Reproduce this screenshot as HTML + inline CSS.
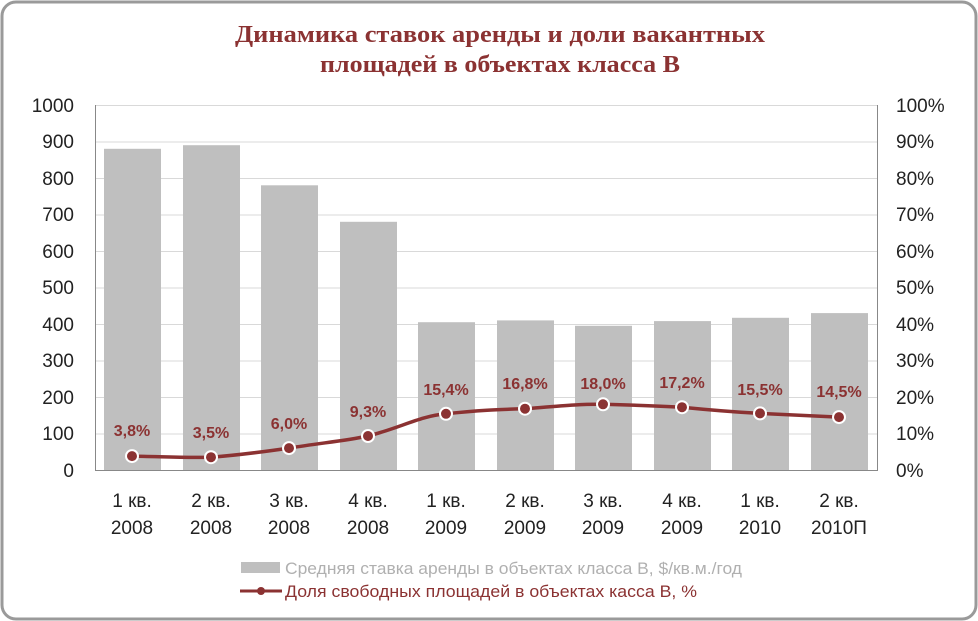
<!DOCTYPE html>
<html><head><meta charset="utf-8"><style>
html,body{margin:0;padding:0;background:#fff;}
svg{display:block;}
</style></head><body>
<svg width="978" height="621" viewBox="0 0 978 621" xmlns="http://www.w3.org/2000/svg">
<rect x="2" y="2" width="974" height="617" rx="14" fill="#fff" stroke="#9a9a9a" stroke-width="3"/>
<g font-family="Liberation Serif, serif" font-size="24" font-weight="bold" fill="#8b3232" text-anchor="middle">
<text x="500" y="42" textLength="530" lengthAdjust="spacingAndGlyphs">Динамика ставок аренды и доли вакантных</text>
<text x="500" y="72" textLength="360" lengthAdjust="spacingAndGlyphs">площадей в объектах класса В</text>
</g>
<g stroke="#d9d9d9" stroke-width="1">
<line x1="95" y1="105.5" x2="878" y2="105.5"/><line x1="95" y1="142" x2="878" y2="142"/>
<line x1="95" y1="178.5" x2="878" y2="178.5"/><line x1="95" y1="215" x2="878" y2="215"/>
<line x1="95" y1="251.5" x2="878" y2="251.5"/><line x1="95" y1="288" x2="878" y2="288"/>
<line x1="95" y1="324.5" x2="878" y2="324.5"/><line x1="95" y1="361" x2="878" y2="361"/>
<line x1="95" y1="397.5" x2="878" y2="397.5"/><line x1="95" y1="434" x2="878" y2="434"/>
</g>
<g fill="#bfbfbf">
<rect x="104" y="148.8" width="57" height="321.2"/>
<rect x="183" y="145.2" width="57" height="324.8"/>
<rect x="261" y="185.3" width="57" height="284.7"/>
<rect x="340" y="221.8" width="57" height="248.2"/>
<rect x="418" y="322.2" width="57" height="147.8"/>
<rect x="497" y="320.4" width="57" height="149.6"/>
<rect x="575" y="325.8" width="57" height="144.2"/>
<rect x="654" y="321.1" width="57" height="148.9"/>
<rect x="732" y="317.8" width="57" height="152.2"/>
<rect x="811" y="313.1" width="57" height="156.9"/>
</g>
<line x1="95.5" y1="105" x2="95.5" y2="470" stroke="#888"/>
<line x1="877.5" y1="105" x2="877.5" y2="470" stroke="#888"/>
<line x1="95" y1="470.5" x2="878" y2="470.5" stroke="#888"/>
<g font-family="Liberation Sans, sans-serif" font-size="19" fill="#222" text-anchor="end">
<text x="74" y="112">1000</text><text x="74" y="148">900</text><text x="74" y="185">800</text>
<text x="74" y="221">700</text><text x="74" y="258">600</text><text x="74" y="294">500</text>
<text x="74" y="331">400</text><text x="74" y="367">300</text><text x="74" y="404">200</text>
<text x="74" y="440">100</text><text x="74" y="477">0</text>
</g>
<g font-family="Liberation Sans, sans-serif" font-size="19" fill="#222" text-anchor="start">
<text x="896" y="112">100%</text><text x="896" y="148">90%</text><text x="896" y="185">80%</text>
<text x="896" y="221">70%</text><text x="896" y="258">60%</text><text x="896" y="294">50%</text>
<text x="896" y="331">40%</text><text x="896" y="367">30%</text><text x="896" y="404">20%</text>
<text x="896" y="440">10%</text><text x="896" y="477">0%</text>
</g>
<g font-family="Liberation Sans, sans-serif" font-size="19" fill="#222" text-anchor="middle">
<text x="132" y="507">1 кв.</text><text x="132" y="534">2008</text>
<text x="211" y="507">2 кв.</text><text x="211" y="534">2008</text>
<text x="289" y="507">3 кв.</text><text x="289" y="534">2008</text>
<text x="368" y="507">4 кв.</text><text x="368" y="534">2008</text>
<text x="446" y="507">1 кв.</text><text x="446" y="534">2009</text>
<text x="525" y="507">2 кв.</text><text x="525" y="534">2009</text>
<text x="603" y="507">3 кв.</text><text x="603" y="534">2009</text>
<text x="682" y="507">4 кв.</text><text x="682" y="534">2009</text>
<text x="760" y="507">1 кв.</text><text x="760" y="534">2010</text>
<text x="839" y="507">2 кв.</text><text x="839" y="534">2010П</text>
</g>
<path d="M132,456.1 C160,456.5 185,458 211,457.2 C240,455 262,452 289,448.1 C320,443 345,441 368,436 C400,428 420,416 446,413.8 C480,410 500,409.5 525,408.7 C560,406 580,404 603,404.3 C630,405 660,406 682,407.2 C710,410 735,412 760,413.4 C790,415 815,416 839,417.1" fill="none" stroke="#8b3232" stroke-width="3.5"/>
<g fill="#8b3232" stroke="#fff" stroke-width="2">
<circle cx="132" cy="456.1" r="6"/><circle cx="211" cy="457.2" r="6"/><circle cx="289" cy="448.1" r="6"/>
<circle cx="368" cy="436" r="6"/><circle cx="446" cy="413.8" r="6"/><circle cx="525" cy="408.7" r="6"/>
<circle cx="603" cy="404.3" r="6"/><circle cx="682" cy="407.2" r="6"/><circle cx="760" cy="413.4" r="6"/>
<circle cx="839" cy="417.1" r="6"/>
</g>
<g font-family="Liberation Sans, sans-serif" font-size="16" font-weight="bold" fill="#8b3232" text-anchor="middle">
<text x="132" y="436">3,8%</text><text x="211" y="438">3,5%</text><text x="289" y="429">6,0%</text>
<text x="368" y="417">9,3%</text><text x="446" y="395">15,4%</text><text x="525" y="389">16,8%</text>
<text x="603" y="389">18,0%</text><text x="682" y="388">17,2%</text><text x="760" y="395">15,5%</text>
<text x="839" y="397">14,5%</text>
</g>
<rect x="241" y="562" width="39" height="11" fill="#bfbfbf"/>
<text x="285" y="574" font-family="Liberation Sans, sans-serif" font-size="17" fill="#b0b0b0" textLength="457" lengthAdjust="spacingAndGlyphs">Средняя ставка аренды в объектах класса В, $/кв.м./год</text>
<line x1="240" y1="591" x2="282" y2="591" stroke="#8b3232" stroke-width="3"/>
<circle cx="261" cy="591" r="4" fill="#8b3232"/>
<text x="285" y="597" font-family="Liberation Sans, sans-serif" font-size="17" fill="#8b3232" textLength="412" lengthAdjust="spacingAndGlyphs">Доля свободных площадей в объектах касса В, %</text>
</svg>
</body></html>
